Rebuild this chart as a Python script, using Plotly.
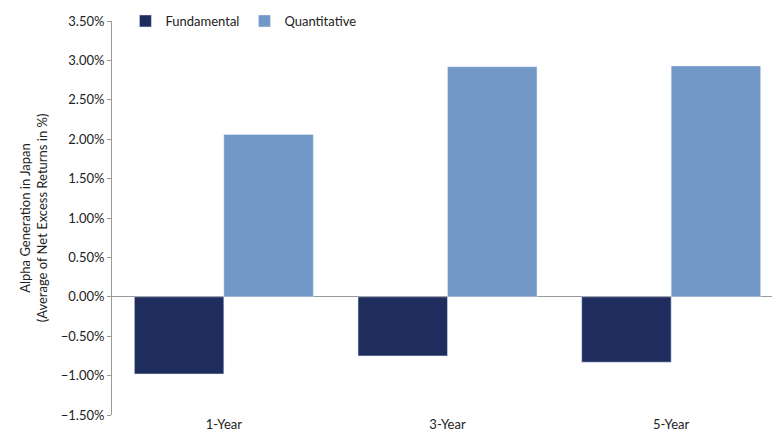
import plotly.graph_objects as go

categories = ["1-Year", "3-Year", "5-Year"]
fundamental = [-0.0098, -0.0075, -0.0083]
quantitative = [0.0206, 0.0292, 0.0293]

fig = go.Figure()
fig.add_bar(name="Fundamental", x=categories, y=fundamental, marker_color="#1f2d5e")
fig.add_bar(name="Quantitative", x=categories, y=quantitative, marker_color="#7198c6")
fig.update_layout(
    width=780, height=440, barmode="group", bargap=0.2, bargroupgap=0,
    plot_bgcolor="white", paper_bgcolor="white",
    margin=dict(l=104, r=5, t=13, b=33, autoexpand=False),
    font=dict(family="Lato, sans-serif", size=13, color="#222"),
    legend=dict(orientation="h", x=0.02, y=1.0, xanchor="left", yanchor="middle",
                font=dict(size=13), bgcolor="rgba(0,0,0,0)"),
    yaxis=dict(range=[-0.015, 0.035], dtick=0.005, tickformat=".2%", automargin=False,
               showgrid=False, zeroline=True, zerolinecolor="#999", zerolinewidth=1,
               showline=True, linecolor="#999", ticks="outside", ticklen=4, tickcolor="#999",
               title=dict(text="Alpha Generation in Japan<br>(Average of Net Excess Returns in %)",
                          font=dict(size=13), standoff=10)),
    xaxis=dict(showline=False, ticks="", showgrid=False, automargin=False),
)
fig.write_html("out.html")
